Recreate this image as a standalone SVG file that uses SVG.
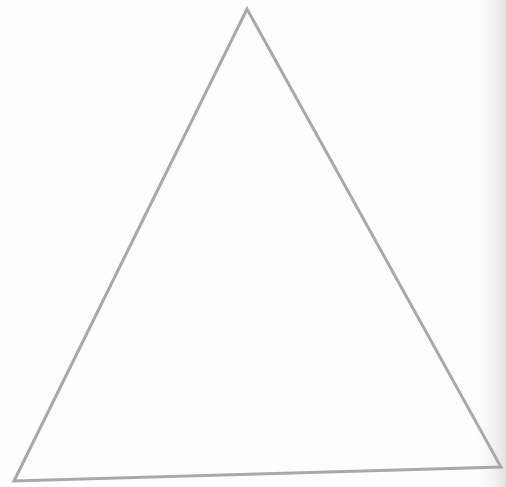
<svg xmlns="http://www.w3.org/2000/svg" width="506" height="487" viewBox="0 0 506 487">
<defs>
<linearGradient id="edge" x1="0" y1="0" x2="1" y2="0">
<stop offset="0" stop-color="#ffffff" stop-opacity="0"/>
<stop offset="1" stop-color="#e2e2e2"/>
</linearGradient>
<style>.tri{fill:none;stroke:#a9a9a9;stroke-width:3;stroke-linejoin:miter}</style>
</defs>
<rect width="506" height="487" fill="#fdfdfd"/>
<rect x="470" y="0" width="36" height="487" fill="url(#edge)"/>
<g id="triangle">
<polygon class="tri" points="247,9 501,467 14,481"/>
</g>
</svg>
